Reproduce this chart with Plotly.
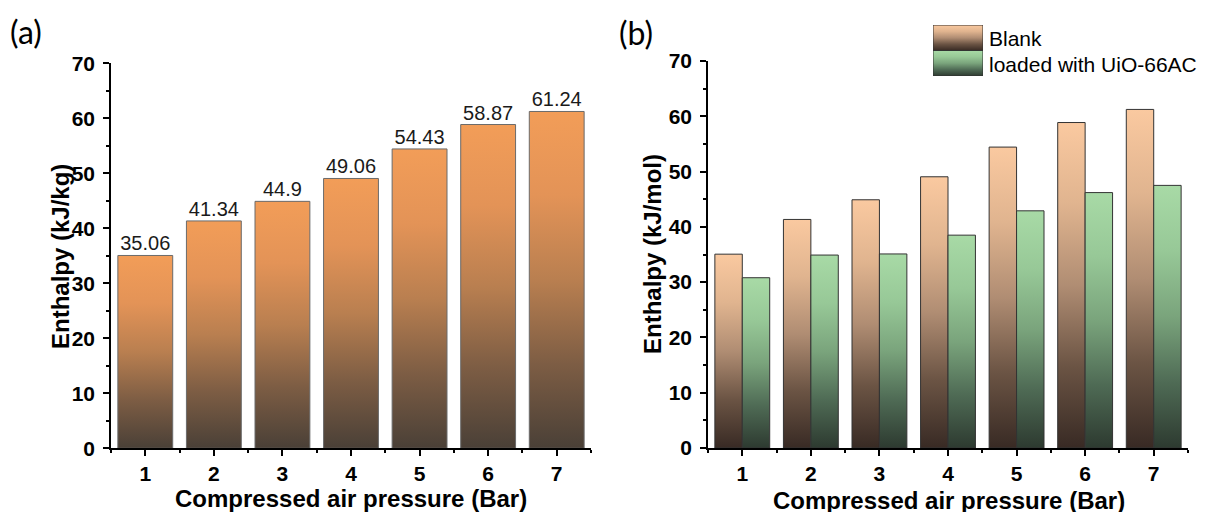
import plotly.graph_objects as go

# Data
pressure = [1, 2, 3, 4, 5, 6, 7]
enthalpy_blank = [35.06, 41.34, 44.9, 49.06, 54.43, 58.87, 61.24]
enthalpy_uio = [30.8, 34.9, 35.1, 38.5, 42.9, 46.2, 47.5]
ytick_vals = [0, 10, 20, 30, 40, 50, 60, 70]

FONT = "Liberation Sans, Arial, sans-serif"

# Vertical gradients (bottom -> top)
orange_scale = [[0, "#4a4037"], [0.25, "#7d5d44"], [0.5, "#b97f50"], [0.75, "#e39357"], [1, "#f29d58"]]
peach_scale = [[0, "#382a24"], [0.25, "#6b5444"], [0.5, "#b08d73"], [0.75, "#e0b48f"], [1, "#fac9a0"]]
green_scale = [[0, "#2d3a30"], [0.25, "#4f6b55"], [0.5, "#7aa47c"], [0.75, "#97c897"], [1, "#a8daa6"]]


def bar_trace(center, value, width, offset, scale, xa, ya, name, line_color="#555555"):
    left = center + offset - width / 2
    right = center + offset + width / 2
    return go.Scatter(
        x=[left, left, right, right, left],
        y=[0, value, value, 0, 0],
        mode="lines",
        fill="toself",
        fillgradient=dict(type="vertical", colorscale=scale),
        line=dict(color=line_color, width=1),
        xaxis=xa, yaxis=ya,
        name=name, showlegend=False, hoverinfo="skip",
    )


fig = go.Figure()

# (a) single series
for c, v in zip(pressure, enthalpy_blank):
    fig.add_trace(bar_trace(c, v, 0.8, 0, orange_scale, "x", "y", "Blank", "#6a6a6a"))

fig.add_trace(go.Scatter(
    x=pressure, y=enthalpy_blank, mode="text",
    text=[str(v) for v in enthalpy_blank], textposition="top center",
    textfont=dict(family=FONT, size=20, color="#1a1a1a"),
    xaxis="x", yaxis="y", showlegend=False, cliponaxis=False, hoverinfo="skip",
))

# (b) grouped series
for c, v in zip(pressure, enthalpy_blank):
    fig.add_trace(bar_trace(c, v, 0.4, -0.2, peach_scale, "x2", "y2", "Blank", "#333333"))
for c, v in zip(pressure, enthalpy_uio):
    fig.add_trace(bar_trace(c, v, 0.4, 0.2, green_scale, "x2", "y2", "loaded with UiO-66AC", "#333333"))

# Legend keys on a small inset axis
fig.add_trace(go.Scatter(
    x=[0, 0, 1, 1, 0], y=[1, 2, 2, 1, 1], mode="lines", fill="toself",
    fillgradient=dict(type="vertical", colorscale=peach_scale),
    line=dict(color="#333333", width=1), xaxis="x3", yaxis="y3",
    showlegend=False, hoverinfo="skip",
))
fig.add_trace(go.Scatter(
    x=[0, 0, 1, 1, 0], y=[0, 1, 1, 0, 0], mode="lines", fill="toself",
    fillgradient=dict(type="vertical", colorscale=green_scale),
    line=dict(color="#333333", width=1), xaxis="x3", yaxis="y3",
    showlegend=False, hoverinfo="skip",
))

W, H = 1205, 512


def xaxis_cfg(domain):
    return dict(
        domain=domain, range=[0.5, 7.5], tickmode="array", tickvals=pressure,
        ticks="outside", ticklen=6, tickwidth=1.5, tickcolor="black",
        showline=True, linewidth=1.5, linecolor="black", mirror=False,
        showgrid=False, zeroline=False, ticklabelstandoff=0, automargin=False,
        tickfont=dict(family=FONT, size=21, color="black", weight="bold"),
        minor=dict(dtick=0.5, tick0=0.5, ticks="outside", ticklen=3, tickwidth=1.5, tickcolor="black"),
    )


def yaxis_cfg(domain, anchor):
    return dict(
        domain=domain, range=[0, 70], tickmode="array", tickvals=ytick_vals,
        ticks="outside", ticklen=6, tickwidth=1.5, tickcolor="black",
        showline=True, linewidth=1.5, linecolor="black",
        showgrid=False, zeroline=False, anchor=anchor, ticklabelstandoff=4,
        automargin=False,
        tickfont=dict(family=FONT, size=21, color="black", weight="bold"),
        minor=dict(dtick=5, tick0=0, ticks="outside", ticklen=3, tickwidth=1.5, tickcolor="black"),
    )


x1 = xaxis_cfg([111 / W, 591 / W]); x1["anchor"] = "y"
x2 = xaxis_cfg([708 / W, 1188 / W]); x2["anchor"] = "y2"

fig.update_layout(
    width=W, height=H,
    margin=dict(l=0, r=0, t=0, b=0, pad=0, autoexpand=False),
    paper_bgcolor="white", plot_bgcolor="white",
    showlegend=False,
    xaxis=x1,
    yaxis=yaxis_cfg([(H - 448.3) / H, (H - 63.3) / H], "x"),
    xaxis2=x2,
    yaxis2=yaxis_cfg([(H - 448) / H, (H - 61) / H], "x2"),
    xaxis3=dict(domain=[933 / W, 983 / W], range=[0, 1], visible=False, anchor="y3",
                fixedrange=True, automargin=False),
    yaxis3=dict(domain=[(H - 76) / H, (H - 25) / H], range=[0, 2], visible=False, anchor="x3",
                fixedrange=True, automargin=False),
)

title_font = dict(family=FONT, size=24, color="black", weight="bold")
annotations = [
    dict(text="Compressed air pressure (Bar)", x=351 / W, y=(H - 498) / H,
         xref="paper", yref="paper", xanchor="center", yanchor="middle",
         showarrow=False, font=title_font),
    dict(text="Compressed air pressure (Bar)", x=949 / W, y=(H - 500) / H,
         xref="paper", yref="paper", xanchor="center", yanchor="middle",
         showarrow=False, font=title_font),
    dict(text="Enthalpy (kJ/kg)", x=60 / W, y=(H - 256) / H, textangle=-90,
         xref="paper", yref="paper", xanchor="center", yanchor="middle",
         showarrow=False, font=title_font),
    dict(text="Enthalpy (kJ/mol)", x=652 / W, y=(H - 254) / H, textangle=-90,
         xref="paper", yref="paper", xanchor="center", yanchor="middle",
         showarrow=False, font=title_font),
    dict(text="(a)", x=8 / W, y=(H - 31) / H, xref="paper", yref="paper",
         xanchor="left", yanchor="middle", showarrow=False,
         font=dict(family="Lato, Carlito, sans-serif", size=32, color="black")),
    dict(text="(b)", x=617 / W, y=(H - 32) / H, xref="paper", yref="paper",
         xanchor="left", yanchor="middle", showarrow=False,
         font=dict(family="Lato, Carlito, sans-serif", size=32, color="black")),
    dict(text="Blank", x=987 / W, y=(H - 38) / H, xref="paper", yref="paper",
         xanchor="left", yanchor="middle", showarrow=False,
         font=dict(family=FONT, size=21, color="black")),
    dict(text="loaded with UiO-66AC", x=987 / W, y=(H - 64) / H, xref="paper", yref="paper",
         xanchor="left", yanchor="middle", showarrow=False,
         font=dict(family=FONT, size=21, color="black")),
]
fig.update_layout(annotations=annotations)

fig.write_html("out.html")
